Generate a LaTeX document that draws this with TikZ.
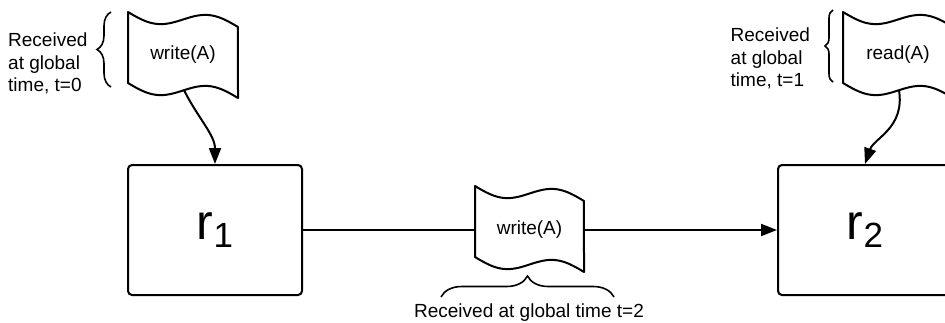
\documentclass[tikz,border=0pt]{standalone}
\usepackage{fontspec}
\setmainfont{Liberation Sans}
\usetikzlibrary{arrows.meta,decorations.pathreplacing}
\newcommand\docoutline[3]{% left, top, width
  \draw[docline] plot[domain=0:1,samples=41] ({#1+#3*\x},{#2+15*\x+8*sin(360*\x)})
    -- plot[domain=1:0,samples=41] ({#1+#3*\x},{#2+71+15*\x+8*sin(360*\x)}) -- cycle;}
\begin{document}
\begin{tikzpicture}[x=1pt,y=-1pt,
  box/.style={draw, line width=2pt, rounded corners=4pt, minimum width=174pt, minimum height=130pt, inner sep=0pt},
  docline/.style={line width=2pt, line join=round},
  doctext/.style={inner sep=0pt, font=\fontsize{19}{22}\selectfont, minimum width=110pt},
  lbl/.style={inner sep=0pt, align=left, font=\fontsize{19}{22.5}\selectfont},
  conn/.style={line width=2pt, -{Triangle[length=16pt,width=12pt]}},
  brc/.style={decorate, decoration={brace, amplitude=#1}, line width=1.6pt}]
\useasboundingbox (0,0) rectangle (945,322);
\clip (0,0) rectangle (945,322);
% boxes
\node[box] (r1) at (215,230) {\fontsize{50}{60}\selectfont r\raisebox{-8pt}{\fontsize{35}{40}\selectfont 1}};
\node[box] (r2) at (865,230) {\fontsize{50}{60}\selectfont r\raisebox{-8pt}{\fontsize{35}{40}\selectfont 2}};
% documents
\docoutline{128}{12}{110}
\node[doctext] (d1) at (183,55) {write(A)};
\docoutline{843}{12}{110}
\node[doctext] (d3) at (898,55) {read(A)};
\docoutline{475}{186}{109}
\node[doctext, minimum width=109pt] (d2) at (529.5,230) {write(A)};
\coordinate (d1b) at (184,90.2);
\coordinate (d3b) at (899,90.2);
% connectors
\draw[conn] (d1b) .. controls (198,118) and (215,135) .. (r1.north);
\draw[conn] (d3b) .. controls (905,128) and (874,138) .. (r2.north);
\draw[line width=2pt] (r1.east) -- (d2.west);
\draw[conn] (d2.east) -- (r2.west);
% labels
\node[lbl, anchor=north west] (lab0) at (8,33) {Received\\at global\\time, t=0};
\node[lbl, anchor=north west] (lab1) at (730.5,28) {Received\\at global\\time, t=1};
\node[inner sep=0pt, anchor=base, font=\fontsize{19}{22}\selectfont] (lab2) at (529,317) {Received at global time t=2};
% braces
\draw[brc=14pt] (111,87) -- (111,12);
\draw[brc=8pt] (833,82) -- (833,10);
\draw[brc=21pt] (441,297) -- (614,297);
\end{tikzpicture}
\end{document}
